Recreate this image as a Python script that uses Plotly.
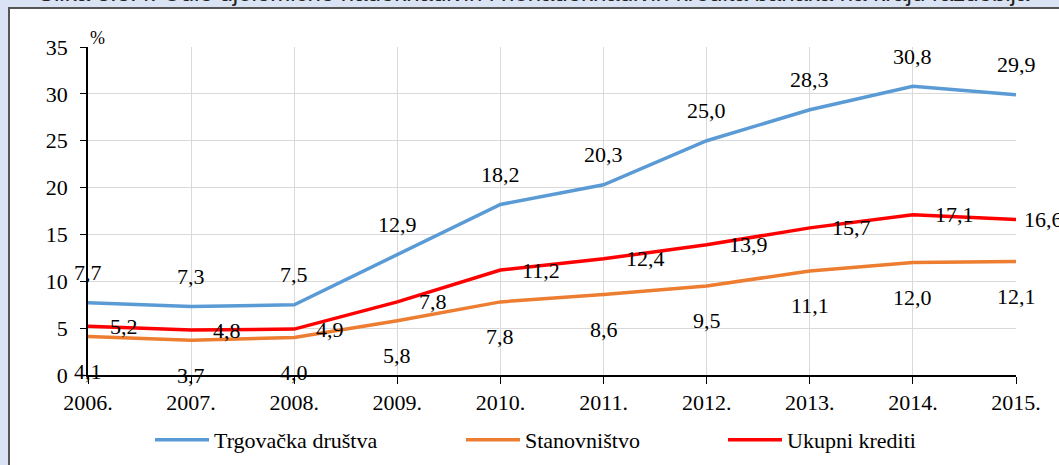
import plotly.graph_objects as go

years = ["2006.", "2007.", "2008.", "2009.", "2010.", "2011.", "2012.", "2013.", "2014.", "2015."]
trgovacka = [7.7, 7.3, 7.5, 12.9, 18.2, 20.3, 25.0, 28.3, 30.8, 29.9]
stanovnistvo = [4.1, 3.7, 4.0, 5.8, 7.8, 8.6, 9.5, 11.1, 12.0, 12.1]
ukupni = [5.2, 4.8, 4.9, 7.8, 11.2, 12.4, 13.9, 15.7, 17.1, 16.6]
y_ticks = [0, 5, 10, 15, 20, 25, 30, 35]

W, H = 1059, 465
L, R, T, B = 88, 43, 47, 90
PW, PH = W - L - R, H - T - B


def px(x):
    return (x - L) / PW


def py(y):
    return (H - B - y) / PH


FONT = "Liberation Serif"
BLUE, ORANGE, RED = "#5B9BD5", "#ED7D31", "#FF0000"

fig = go.Figure()
series = [
    ("Trgovačka društva", trgovacka, BLUE, "legend"),
    ("Stanovništvo", stanovnistvo, ORANGE, "legend2"),
    ("Ukupni krediti", ukupni, RED, "legend3"),
]
for name, vals, col, lg in series:
    fig.add_trace(go.Scatter(x=years, y=vals, mode="lines", name=name,
                             line=dict(color=col, width=3.5), legend=lg,
                             hoverinfo="skip"))

ann = []
fmt = lambda v: f"{v:.1f}".replace(".", ",")
lab_font = dict(family=FONT, size=22, color="#000")
n = len(years)
# category axis: annotation x is the category serial number
for i, v in enumerate(trgovacka):
    ann.append(dict(x=i, y=v, text=fmt(v), showarrow=False, xanchor="center",
                    yanchor="middle", yshift=30, font=lab_font))
for i, v in enumerate(stanovnistvo):
    ann.append(dict(x=i, y=v, text=fmt(v), showarrow=False, xanchor="center",
                    yanchor="middle", yshift=-35, font=lab_font))
for i, v in enumerate(ukupni):
    ann.append(dict(x=i, y=v, text=fmt(v), showarrow=False, xanchor="left",
                    yanchor="middle", xshift=20 if i < n - 1 else 6, font=lab_font))

ann.append(dict(xref="paper", yref="paper", x=0, y=py(38), text="%",
                showarrow=False, xanchor="left", yanchor="middle",
                font=dict(family=FONT, size=18, color="#000")))
ann.append(dict(xref="paper", yref="paper", x=px(534), y=py(8.5),
                text="Slika 3.3.4. Udio djelomično nadoknadivih i nenadoknadivih kredita banaka na kraju razdoblja",
                showarrow=False, xanchor="center", yanchor="bottom",
                font=dict(family="Liberation Sans, Arial, sans-serif", size=24, color="#222")))

shapes = [dict(type="rect", xref="paper", yref="paper", x0=px(9), x1=px(W + 20),
               y0=py(H + 20), y1=py(8), fillcolor="white",
               line=dict(color="#555555", width=2), layer="below")]

leg_common = dict(orientation="h", xref="container", yref="container",
                  y=1 - 440 / H, yanchor="middle", xanchor="left",
                  bgcolor="rgba(0,0,0,0)", itemwidth=54,
                  font=dict(family=FONT, size=22, color="#000"))

fig.update_layout(
    width=W, height=H,
    margin=dict(l=L, r=R, t=T, b=B, autoexpand=False),
    paper_bgcolor="#DAE3F3",
    plot_bgcolor="white",
    showlegend=True,
    legend=dict(leg_common, x=150 / W),
    legend2=dict(leg_common, x=461 / W),
    legend3=dict(leg_common, x=723 / W),
    annotations=ann,
    shapes=shapes,
    xaxis=dict(type="category", range=[0, n - 1], showgrid=True,
               gridcolor="#D9D9D9", gridwidth=1, showline=True, linecolor="#000",
               linewidth=1.5, ticks="outside", ticklen=7, tickcolor="#000",
               tickfont=dict(family=FONT, size=22, color="#000"),
               ticklabelstandoff=0, zeroline=False, automargin=False),
    yaxis=dict(range=[0, 35], tickvals=y_ticks, showgrid=True,
               gridcolor="#D9D9D9", gridwidth=1, showline=True, linecolor="#000",
               linewidth=1.5, ticks="outside", ticklen=6, tickcolor="#000",
               tickfont=dict(family=FONT, size=22, color="#000"),
               ticklabelstandoff=8, zeroline=False, automargin=False),
)

fig.write_html("out.html", config={"displayModeBar": False},
               post_script="document.body.style.margin='0';")
